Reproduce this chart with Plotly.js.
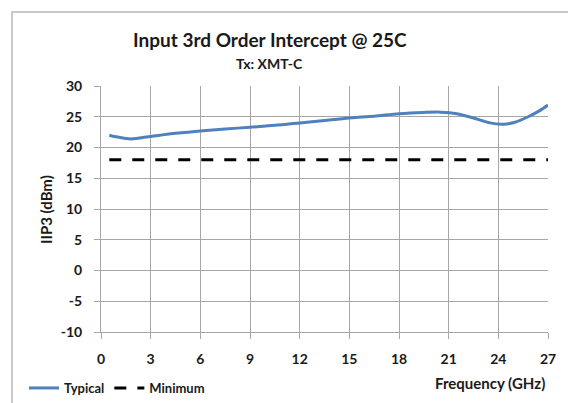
<!DOCTYPE html>
<html>
<head>
<meta charset="utf-8">
<script src="https://cdn.plot.ly/plotly-3.0.1.min.js"></script>
<style>html,body{margin:0;padding:0;background:#fff;}#chart{width:568px;height:403px;}</style>
</head>
<body>
<div id="chart"></div>
<script>
const freqTypical = [0.5, 1, 1.8, 3, 4.5, 6, 7.5, 9, 10.5, 12, 13.5, 15, 16.5, 18, 19.5, 20.5, 21.5, 22.5, 23.5, 24.3, 25, 25.8, 26.5, 27];
const iip3Typical = [22.0, 21.7, 21.4, 21.8, 22.3, 22.7, 23.0, 23.3, 23.6, 24.0, 24.4, 24.8, 25.1, 25.5, 25.7, 25.75, 25.5, 24.8, 24.0, 23.8, 24.1, 25.0, 26.0, 26.9];
const freqMinimum = [0.5, 27];
const iip3Minimum = [18, 18];
const xTicks = [0, 3, 6, 9, 12, 15, 18, 21, 24, 27];
const yTicks = [-10, -5, 0, 5, 10, 15, 20, 25, 30];
const yTickText = ['-10', '-5', '0', '5', '10', '15', '20', '25', '30'];

const FONT = 'Lato, "Open Sans", sans-serif';
const traces = [
  {x: freqTypical, y: iip3Typical, name: 'Typical', mode: 'lines',
   line: {color: '#4F81BD', width: 3, shape: 'spline', smoothing: 0.8}},
  {x: freqMinimum, y: iip3Minimum, name: 'Minimum', mode: 'lines',
   line: {color: '#000000', width: 3, dash: '12px,11px'}}
];
const axisCommon = {
  showgrid: true, gridcolor: '#a6a6a6', gridwidth: 1,
  showline: true, linecolor: '#a6a6a6', linewidth: 1,
  ticks: 'outside', ticklen: 6, tickcolor: '#a6a6a6',
  zeroline: false, tickfont: {family: FONT, size: 14, color: '#1a1a1a', weight: 'bold'}
};
const PW = 447, PH = 246, L = 101, T = 86;
const px = v => (v - L) / PW;
const py = v => 1 - (v - T) / PH;
const layout = {
  width: 568, height: 403,
  margin: {l: 101, r: 20, t: 86, b: 71, autoexpand: false},
  paper_bgcolor: '#fff', plot_bgcolor: '#fff',
  showlegend: true,
  legend: {orientation: 'h', x: px(24), xanchor: 'left', y: py(388), yanchor: 'middle',
           font: {family: FONT, size: 13, color: '#1a1a1a', weight: 'bold'},
           tracegroupgap: 0, bgcolor: 'rgba(0,0,0,0)'},
  xaxis: Object.assign({}, axisCommon, {range: [0, 27], tickvals: xTicks, ticklabelstandoff: 8}),
  yaxis: Object.assign({}, axisCommon, {range: [-10, 30], tickvals: yTicks, ticktext: yTickText, ticklabelstandoff: 9}),
  annotations: [
    {text: 'Input 3rd Order Intercept @ 25C', xref: 'paper', yref: 'paper', x: px(270), y: py(40),
     xanchor: 'center', yanchor: 'middle', showarrow: false, font: {family: FONT, size: 19, color: '#1a1a1a', weight: 'bold'}},
    {text: 'Tx: XMT-C', xref: 'paper', yref: 'paper', x: px(269), y: py(63),
     xanchor: 'center', yanchor: 'middle', showarrow: false, font: {family: FONT, size: 14, color: '#1a1a1a', weight: 'bold'}},
    {text: 'IIP3 (dBm)', xref: 'paper', yref: 'paper', x: px(46), y: py(210), textangle: -90,
     xanchor: 'center', yanchor: 'middle', showarrow: false, font: {family: FONT, size: 15, color: '#1a1a1a', weight: 'bold'}},
    {text: 'Frequency (GHz)', xref: 'paper', yref: 'paper', x: px(547), y: py(383),
     xanchor: 'right', yanchor: 'middle', showarrow: false, font: {family: FONT, size: 15, color: '#1a1a1a', weight: 'bold'}}
  ],
  shapes: [
    {type: 'rect', xref: 'paper', yref: 'paper', x0: px(12), x1: px(580), y0: py(420), y1: py(12),
     line: {color: '#c8c8c8', width: 2}, layer: 'below'}
  ]
};
Plotly.newPlot('chart', traces, layout, {staticPlot: true, displayModeBar: false});
</script>
</body>
</html>
